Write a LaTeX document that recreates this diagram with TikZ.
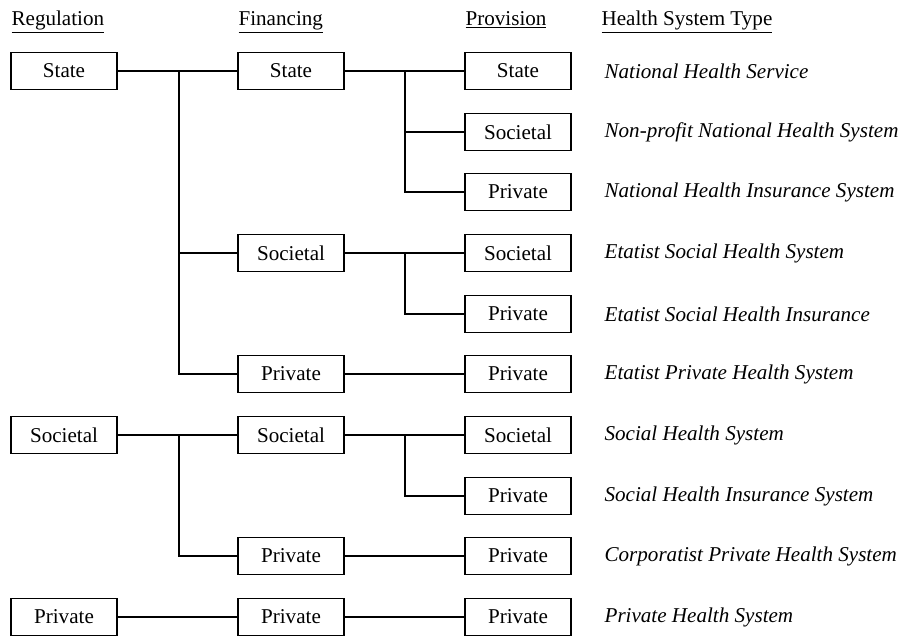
\documentclass[tikz,border=0pt]{standalone}
\usepackage{fontspec}
\setmainfont{Liberation Serif}

\begin{document}
\begin{tikzpicture}[x=0.2mm,y=-0.2mm,
    every node/.style={font=\fontsize{12}{14}\selectfont},
    box/.style={draw, line width=0.6pt, minimum width=21.2mm, minimum height=7.4mm, inner sep=0pt},
    head/.style={anchor=base west, inner sep=0pt},
    kind/.style={anchor=west, inner sep=0pt, font=\fontsize{12}{14}\selectfont\itshape},
    line width=0.7pt]
    \useasboundingbox (0,0) rectangle (904,637);
    % column heads
    \node[head] (hR) at (11,25) {\underline{Regulation}};
    \node[head] (hF) at (238,25) {\underline{Financing}};
    \node[head] (hP) at (465,25) {\underline{Provision}};
    \node[head] (hT) at (601,25) {\underline{Health System Type}};
    % regulation
    \node[box] (R1) at (64,71) {State};
    \node[box] (R2) at (64,435) {Societal};
    \node[box] (R3) at (64,617) {Private};
    % financing
    \node[box] (F1) at (291,71) {State};
    \node[box] (F2) at (291,253) {Societal};
    \node[box] (F3) at (291,374) {Private};
    \node[box] (F4) at (291,435) {Societal};
    \node[box] (F5) at (291,556) {Private};
    \node[box] (F6) at (291,617) {Private};
    % provision
    \node[box] (P1) at (518,71) {State};
    \node[box] (P2) at (518,132) {Societal};
    \node[box] (P3) at (518,192) {Private};
    \node[box] (P4) at (518,253) {Societal};
    \node[box] (P5) at (518,314) {Private};
    \node[box] (P6) at (518,374) {Private};
    \node[box] (P7) at (518,435) {Societal};
    \node[box] (P8) at (518,496) {Private};
    \node[box] (P9) at (518,556) {Private};
    \node[box] (P10) at (518,617) {Private};
    % system types
    \node[kind] (T1) at (604,71) {National Health Service};
    \node[kind] (T2) at (604,132) {Non-profit National Health System};
    \node[kind] (T3) at (604,192) {National Health Insurance System};
    \node[kind] (T4) at (604,253) {Etatist Social Health System};
    \node[kind] (T5) at (604,314) {Etatist Social Health Insurance};
    \node[kind] (T6) at (604,374) {Etatist Private Health System};
    \node[kind] (T7) at (604,435) {Social Health System};
    \node[kind] (T8) at (604,496) {Social Health Insurance System};
    \node[kind] (T9) at (604,556) {Corporatist Private Health System};
    \node[kind] (T10) at (604,617) {Private Health System};
    % branch points
    \coordinate (a) at (179,71);
    \coordinate (b) at (405,71);
    \coordinate (c) at (405,253);
    \coordinate (d) at (179,435);
    \coordinate (e) at (405,435);
    % connectors
    \draw (R1) -- (F1); \draw (a) |- (F2); \draw (a) |- (F3);
    \draw (F1) -- (P1); \draw (b) |- (P2); \draw (b) |- (P3);
    \draw (F2) -- (P4); \draw (c) |- (P5);
    \draw (F3) -- (P6);
    \draw (R2) -- (F4); \draw (d) |- (F5);
    \draw (F4) -- (P7); \draw (e) |- (P8);
    \draw (F5) -- (P9);
    \draw (R3) -- (F6); \draw (F6) -- (P10);
\end{tikzpicture}
\end{document}
